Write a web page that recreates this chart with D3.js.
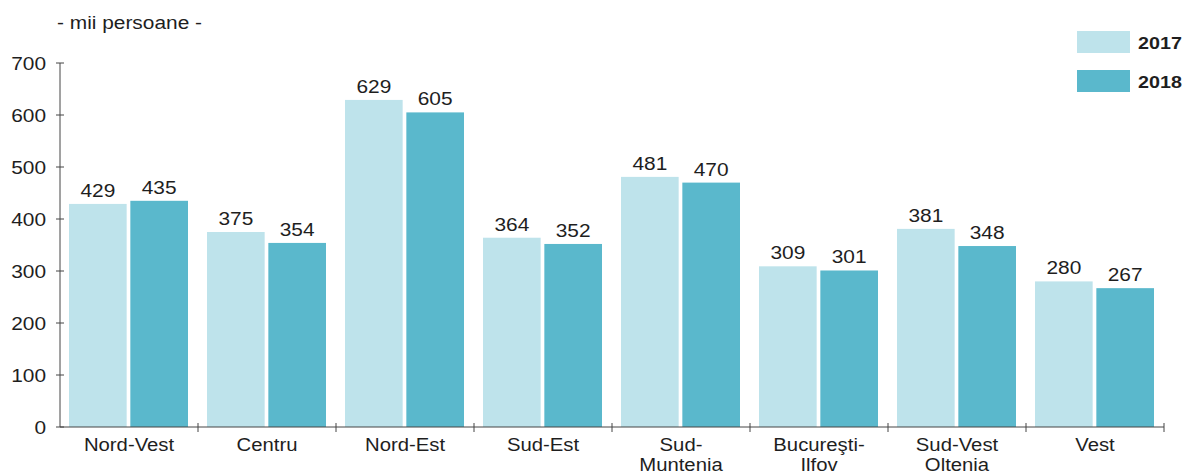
<!DOCTYPE html>
<html><head><meta charset="utf-8">
<script src="https://cdn.jsdelivr.net/npm/d3@7"></script>
<style>body{margin:0;background:#fff}svg{display:block}text{font-family:"Liberation Sans",Arial,sans-serif;fill:#1e1e1e}</style>
</head><body>
<svg id="c" width="1190" height="475"></svg>
<script>
const categories = ["Nord-Vest","Centru","Nord-Est","Sud-Est","Sud-\nMuntenia","Bucureşti-\nIlfov","Sud-Vest\nOltenia","Vest"];
const series2017 = [429,375,629,364,481,309,381,280];
const series2018 = [435,354,605,352,470,301,348,267];
const yTicks = [0,100,200,300,400,500,600,700];
const seriesNames = ["2017","2018"];
const colors = ["#bee3eb","#5ab8cc"];

const svg = d3.select("#c");
const SX = 1.16;
function txt(g, x, y, s, size, anchor, bold){
  return g.append("text").attr("transform",`translate(${x},${y}) scale(${SX},1)`)
    .attr("text-anchor",anchor||"start").attr("font-size",size)
    .attr("font-weight",bold?"bold":null).text(s);
}
const x0 = 60, x1 = 1164, yBase = 427, yTop = 63;
const x = d3.scaleBand().domain(categories).range([x0, x1]).paddingInner(0).paddingOuter(0);
const y = d3.scaleLinear().domain([0,700]).range([yBase, yTop]);
const sub = d3.scaleBand().domain(seriesNames).range([9, x.bandwidth()-10]).paddingInner(0.06);

const data = [series2017, series2018];
categories.forEach((c,i)=>{
  seriesNames.forEach((s,j)=>{
    const v = data[j][i];
    svg.append("rect").attr("x", x(c)+sub(s)).attr("y", y(v)).attr("width", sub.bandwidth()).attr("height", yBase - y(v)).attr("fill", colors[j]);
    txt(svg, x(c)+sub(s)+sub.bandwidth()/2, y(v)-7, v, 18, "middle");
  });
});

// y axis
const ya = svg.append("g");
ya.append("line").attr("x1",x0).attr("x2",x0).attr("y1",yBase).attr("y2",yTop).attr("stroke","#444");
yTicks.forEach(t=>{
  ya.append("line").attr("x1",x0-4).attr("x2",x0+4).attr("y1",y(t)).attr("y2",y(t)).attr("stroke","#444");
  txt(ya, x0-14, y(t)+6.5, t, 18, "end");
});
// x axis
const xa = svg.append("g");
xa.append("line").attr("x1",x0).attr("x2",x1).attr("y1",yBase).attr("y2",yBase).attr("stroke","#444");
categories.forEach((c,i)=>{
  xa.append("line").attr("x1",x(c)+x.bandwidth()).attr("x2",x(c)+x.bandwidth()).attr("y1",yBase-4).attr("y2",yBase+5).attr("stroke","#444");
  c.split("\n").forEach((l,k)=>{
    txt(xa, x(c)+x.bandwidth()/2, 451 + k*20, l, 17.5, "middle");
  });
});

txt(svg, 57, 29, "- mii persoane -", 18, "start");

// legend
seriesNames.forEach((s,j)=>{
  svg.append("rect").attr("x",1077).attr("y",31+j*39).attr("width",53).attr("height",22).attr("fill",colors[j]);
  txt(svg, 1138, 49+j*39, s, 17, "start", true);
});
</script>
</body></html>
